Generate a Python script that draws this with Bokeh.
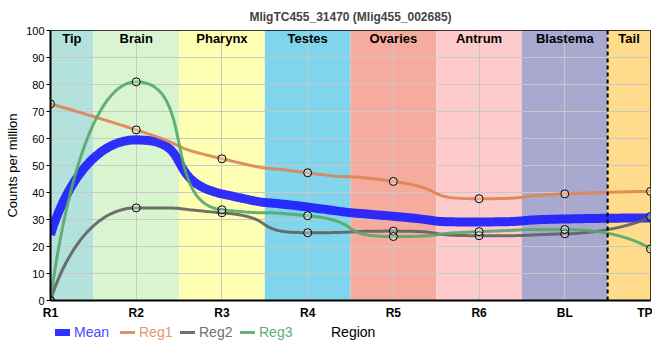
import numpy as np
from bokeh.plotting import figure
from bokeh.layouts import column
from bokeh.models import Range1d, FixedTicker, Span, ColumnDataSource, Div
from bokeh.core.properties import value
from bokeh.embed import file_html
from bokeh.resources import INLINE

# ---------------- data ----------------
tick_labels = ["R1", "R2", "R3", "R4", "R5", "R6", "BL", "TP"]
regions = ["Tip", "Brain", "Pharynx", "Testes", "Ovaries", "Antrum", "Blastema", "Tail"]
region_colors = ["#b3e2dd", "#d9f5d0", "#ffffb3", "#80d4eb", "#f5ab9e",
                 "#fdcbcb", "#a9a8cf", "#fedc8c"]
series_names = ["Mean", "Reg1", "Reg2", "Reg3"]
mean_vals = [24.3, 59.5, 39.5, 34.6, 31.2, 29.1, 30.2, 30.6]
reg1_vals = [72.8, 63.2, 52.5, 47.3, 44.1, 37.7, 39.5, 40.4]
reg2_vals = [0.0, 34.3, 32.5, 25.1, 25.7, 24.0, 24.7, 31.1]
reg3_vals = [0.0, 81.0, 33.6, 31.4, 23.7, 25.5, 26.3, 19.1]

FONT = "Liberation Sans"


def smooth(xs, ys, alpha=0.7, n=40):
    """Bezier smoothing in the style of dygraphs' smooth plotter."""
    m = len(xs)
    lc = [None] * m
    rc = [None] * m
    for i in range(m):
        x1, y1 = xs[i], ys[i]
        if i == 0 or i == m - 1:
            lc[i] = (x1, y1)
            rc[i] = (x1, y1)
            continue
        x0, y0 = xs[i - 1], ys[i - 1]
        x2, y2 = xs[i + 1], ys[i + 1]
        l1x = (1 - alpha) * x1 + alpha * x0
        l1y = (1 - alpha) * y1 + alpha * y0
        r1x = (1 - alpha) * x1 + alpha * x2
        r1y = (1 - alpha) * y1 + alpha * y2
        if l1x != r1x:
            d = y1 - r1y - (x1 - r1x) * (l1y - r1y) / (l1x - r1x)
            l1y += d
            r1y += d
        if l1y > y0 and l1y > y1:
            l1y = max(y0, y1); r1y = 2 * y1 - l1y
        elif l1y < y0 and l1y < y1:
            l1y = min(y0, y1); r1y = 2 * y1 - l1y
        if r1y > y1 and r1y > y2:
            r1y = max(y1, y2); l1y = 2 * y1 - r1y
        elif r1y < y1 and r1y < y2:
            r1y = min(y1, y2); l1y = 2 * y1 - r1y
        lc[i] = (l1x, l1y)
        rc[i] = (r1x, r1y)
    ox, oy = [], []
    s = np.linspace(0, 1, n)
    b0, b1, b2, b3 = (1 - s) ** 3, 3 * (1 - s) ** 2 * s, 3 * (1 - s) * s ** 2, s ** 3
    for i in range(m - 1):
        P0 = (xs[i], ys[i]); C1 = rc[i]; C2 = lc[i + 1]; P3 = (xs[i + 1], ys[i + 1])
        ox.extend(b0 * P0[0] + b1 * C1[0] + b2 * C2[0] + b3 * P3[0])
        oy.extend(b0 * P0[1] + b1 * C1[1] + b2 * C2[1] + b3 * P3[1])
    return ox, oy


xpos = list(range(len(tick_labels)))
last = len(tick_labels) - 1

p = figure(width=652, height=322, output_backend="svg", toolbar_location=None,
           x_range=Range1d(0, last), y_range=Range1d(0, 100),
           min_border_left=50, min_border_right=2, min_border_top=30,
           min_border_bottom=22,
           title="MligTC455_31470 (Mlig455_002685)")
p.title.align = "center"
p.title.text_font = FONT
p.title.text_font_size = "12px"
p.title.text_font_style = "bold"
p.title.text_line_height = 1.0
p.title.standoff = 14

# bands
band_src = ColumnDataSource(dict(
    left=[max(i - 0.5, 0) for i in xpos],
    right=[min(i + 0.5, last) for i in xpos],
    mid=[(max(i - 0.5, 0) + min(i + 0.5, last)) / 2 for i in xpos],
    color=region_colors, name=regions))
bq = p.quad(left="left", right="right", bottom=0, top=100, fill_color="color",
            line_color=None, source=band_src)
bq.level = "image"
p.text(x="mid", y=97.0, text="name", source=band_src, text_align="center",
       text_baseline="middle", text_font=value(FONT), text_font_size="13px",
       text_font_style="bold", text_color="black")

p.add_layout(Span(location=6.5, dimension="height", line_color="black",
                  line_width=2, line_dash="4 3"))

# lines
line_colors = ["#1a1aff", "#dd8452", "#606060", "#55a868"]
legend_text_colors = ["#4a4aff", "#e39a6e", "#6e6e7e", "#5fae74"]
all_vals = [mean_vals, reg1_vals, reg2_vals, reg3_vals]
for k, vals in enumerate(all_vals):
    sx, sy = smooth(xpos, vals)
    p.line(sx, sy, line_color=line_colors[k], line_width=9 if k == 0 else 3,
           line_alpha=0.9)
for vals in all_vals[1:]:
    p.scatter(xpos, vals, size=8, fill_color="white", fill_alpha=0.3,
              line_color="black", line_width=1)

# axes
p.xaxis.ticker = FixedTicker(ticks=xpos)
p.xaxis.major_label_overrides = {i: lab for i, lab in enumerate(tick_labels)}
p.yaxis.ticker = FixedTicker(ticks=list(range(0, 101, 10)))
for ax in (p.xaxis, p.yaxis):
    ax.axis_line_width = 2
    ax.axis_line_color = "black"
    ax.minor_tick_line_color = None
    ax.minor_tick_out = 0
    ax.major_label_text_font = FONT
    ax.major_label_text_color = "black"
    ax.axis_label_text_font = FONT
    ax.axis_label_text_font_style = "normal"
    ax.axis_label_text_font_size = "13px"
    ax.axis_label_text_color = "black"
p.xaxis.major_tick_line_color = None
p.xaxis.major_tick_out = 0
p.xaxis.major_tick_in = 0
p.xaxis.major_label_text_font_size = "12px"
p.xaxis.major_label_text_font_style = "bold"
p.xaxis.major_label_standoff = 5
p.yaxis.major_label_text_font_size = "11px"
p.yaxis.major_tick_out = 4
p.yaxis.major_tick_in = 0
p.yaxis.major_tick_line_color = "black"
p.yaxis.major_label_standoff = 2
p.yaxis.axis_label = "Counts per million"
p.yaxis.axis_label_standoff = 3

p.xgrid.grid_line_color = "#c8c8c8"
p.ygrid.grid_line_color = "#c8c8c8"
p.outline_line_color = "black"
p.outline_line_width = 1

# legend row + x-axis title as HTML below the plot
glyph_lefts = [55, 120, 180, 240]
parts = []
for k, name in enumerate(series_names):
    thick = 7 if k == 0 else 3
    parts.append(
        f'<span style="position:absolute;left:{glyph_lefts[k]}px;'
        f'top:{10 - thick // 2}px;width:15px;height:{thick}px;'
        f'background:{line_colors[k]};opacity:0.9"></span>'
        f'<span style="position:absolute;left:{glyph_lefts[k] + 19}px;top:2px;'
        f'color:{legend_text_colors[k]}">{name}</span>')
parts.append('<span style="position:absolute;left:331px;top:2px;color:#000">Region</span>')
html = ('<div style="position:relative;width:652px;height:24px;'
        f'font-family:\'{FONT}\',sans-serif;font-size:14px;line-height:16px">'
        + "".join(parts) + '</div>')
div = Div(text=html, width=652, height=24, margin=0)

layout = column(p, div, spacing=0)
open("out.html", "w").write(file_html(layout, INLINE))
